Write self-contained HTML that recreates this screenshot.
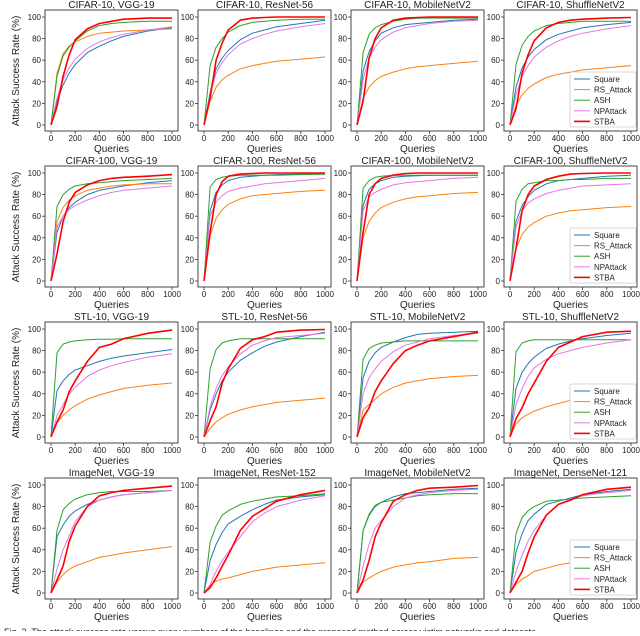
<!DOCTYPE html>
<html><head><meta charset="utf-8"><style>
body{margin:0;background:#fff;width:640px;height:631px;overflow:hidden;font-family:"Liberation Sans",sans-serif}
svg text{font-family:"Liberation Sans",sans-serif;fill:#222}
</style></head><body>
<svg id="fig" width="640" height="631" viewBox="0 0 640 631" xmlns="http://www.w3.org/2000/svg"></svg>
<script>
const queries=[0,50,100,150,200,300,400,500,600,800,1000];
const titles=["CIFAR-10, VGG-19","CIFAR-10, ResNet-56","CIFAR-10, MobileNetV2","CIFAR-10, ShuffleNetV2",
"CIFAR-100, VGG-19","CIFAR-100, ResNet-56","CIFAR-100, MobileNetV2","CIFAR-100, ShuffleNetV2",
"STL-10, VGG-19","STL-10, ResNet-56","STL-10, MobileNetV2","STL-10, ShuffleNetV2",
"ImageNet, VGG-19","ImageNet, ResNet-152","ImageNet, MobileNetV2","ImageNet, DenseNet-121"];
const yTicks=[0,20,40,60,80,100];
const xTicks=[0,200,400,600,800,1000];
const seriesNames=["Square","RS_Attack","ASH","NPAttack","STBA"];
const squareData=[
[0,22,37,48,56,67,73,78,82,87,90],[0,30,52,62,69,79,85,88,91,94,97],[0,50,68,78,85,90,93,94,95,97,98],[0,35,53,63,70,79,84,87,90,93,95],
[0,45,60,68,73,80,84,86,88,91,93],[0,65,82,89,93,96,97,98,98.5,99,99],[0,70,85,90,93,96,97,97.5,98,98,98],[0,55,70,78,84,90,93,94,95,97,98],
[0,43,52,58,62,66,70,73,75,78,81],[0,25,40,52,60,71,78,84,88,93,97],[0,55,70,78,83,88,92,95,96,97,98],[0,45,60,68,74,82,86,89,91,94,96],
[0,52,63,71,76,82,86,89,91,93,95],[0,30,45,56,64,71,77,82,86,89,91],[0,58,72,80,84,89,92,93,94,96,97],[0,38,55,67,73,82,85,88,91,94,96]];
const rsData=[
[0,48,66,73,77,82,85,86,87,88,89],[0,22,35,42,46,52,55,57,59,61,63],[0,25,35,41,45,49,52,54,55,57,59],[0,18,28,34,38,44,47,49,51,53,55],
[0,55,68,75,79,84,86,88,89,90,90],[0,42,58,66,71,76,79,80,81,83,84],[0,40,55,63,68,73,76,78,79,81,82],[0,30,43,50,54,60,63,65,66,68,69],
[0,13,20,25,29,35,39,42,45,48,50],[0,8,14,18,21,25,28,30,32,34,36],[0,25,30,35,40,46,50,52,54,56,57],[0,12,18,21,24,28,31,34,37,40,43],
[0,10,17,22,25,29,33,35,37,40,43],[0,7,11,13,14,17,20,22,24,26,28],[0,10,14,17,20,24,26,28,29,32,33],[0,8,13,16,20,23,26,28,30,31,32]];
const ashData=[
[0,45,64,72,78,87,92,94,95,96,96],[0,55,72,80,86,92,95,96,97,98,98],[0,67,84,90,93,96,98,99,99,99,99],[0,56,74,82,87,92,94,95,96,96,96],
[0,69,80,85,88,90,91,92,93,94,95],[0,87,94,96,97,98,98,98,98,98.5,99],[0,86,93,96,97,98,98,98,98,98,98],[0,74,85,90,91,93,93,94,94,95,95],
[0,78,86,88,89,90,90.5,90.5,91,91,91],[0,63,81,87,89,91,91,91,91,91,91],[0,72,82,85,87,88,89,89,89,89,89],[0,79,87,89,90,90,90,90,90,90,90],
[0,58,77,83,87,91,93,94,94,94,95],[0,47,62,72,76,82,85,87,89,90,92],[0,58,73,81,84,86,88,90,91,92,92],[0,55,70,76,80,85,86,87,88,89,90]];
const npData=[
[0,25,42,53,61,71,77,81,84,88,91],[0,28,48,58,65,75,80,84,87,91,94],[0,42,62,72,79,86,90,92,94,96,97],[0,28,45,55,63,72,78,82,85,89,92],
[0,50,60,66,70,75,79,82,84,86,88],[0,60,73,79,83,86,88,90,91,93,95],[0,65,78,82,85,89,91,92,93,95,96],[0,50,65,72,76,81,84,86,88,89,90],
[0,20,30,40,46,56,62,66,69,74,77],[0,28,45,57,65,77,85,89,92,94,96],[0,40,55,63,70,79,85,88,91,94,96],[0,30,45,56,64,72,77,80,83,87,90],
[0,22,40,53,66,80,86,89,91,93,95],[0,8,20,30,38,52,66,74,80,86,90],[0,25,45,60,67,80,88,91,93,95,96],[0,20,35,48,58,72,82,87,90,93,95]];
const stbaData=[
[0,17,45,65,79,89,94,96,98,99,99],[0,25,60,76,88,97,99,99.5,100,100,100],[0,22,62,80,90,97,99,99.5,100,100,100],[0,15,48,65,78,90,95,97,98,99,99.5],
[0,25,55,73,82,89,93,95,96,97,98.5],[0,45,80,92,97,99,99.5,100,100,100,100],[0,45,80,90,95,98,99.5,100,100,100,100],[0,30,65,80,88,94,97,99,99.5,100,100],
[0,14,25,42,52,70,83,86,91,96,99],[0,15,28,50,63,82,90,93,97,99,99.5],[0,18,27,42,52,68,80,85,89,93,97],[0,17,27,40,50,70,83,88,93,97,98],
[0,12,25,48,62,80,90,93,95,97,99],[0,5,14,25,35,58,71,78,85,91,95],[0,12,30,52,65,85,91,95,97,98,99.5],[0,10,20,37,52,72,82,86,91,96,98]];
const allSeries=[squareData,rsData,ashData,npData,stbaData];
const colors=["#1f77b4","#ff7f0e","#2ca02c","#e377e8","#ff0000"];
const widths=[1,1,1,1,1.6];
const NS="http://www.w3.org/2000/svg";
const svg=document.getElementById("fig");
function mk(tag,attrs,parent){const e=document.createElementNS(NS,tag);for(const k in attrs)e.setAttribute(k,attrs[k]);(parent||svg).appendChild(e);return e;}
const colX0=[51,204,357,510], rowY0=[125,281,437,593], PW=121, PH=108;
for(let p=0;p<16;p++){
  const r=Math.floor(p/4), c=p%4;
  const x0=colX0[c], y0=rowY0[r];
  const xs=v=>x0+v/1000*PW, ys=v=>y0-v/100*PH;
  const g=mk("g",{});
  
  
  const t=mk("text",{x:x0+PW/2,y:y0-117,"text-anchor":"middle","font-size":"10"},g);t.textContent=titles[p];
  
  
  const box=mk("rect",{x:x0-6,y:y0-115,width:PW+12,height:121,fill:"none",stroke:"#333","stroke-width":"0.9"},g);
  
  
  yTicks.forEach(v=>{
    mk("line",{x1:x0-9,x2:x0-6,y1:ys(v),y2:ys(v),stroke:"#333","stroke-width":"0.8"},g);
    const tt=mk("text",{x:x0-10,y:ys(v)+3,"text-anchor":"end","font-size":"8"},g);tt.textContent=v;
    
    
  });
  xTicks.forEach(v=>{
    mk("line",{x1:xs(v),x2:xs(v),y1:y0+6,y2:y0+9,stroke:"#333","stroke-width":"0.8"},g);
    const tt=mk("text",{x:xs(v),y:y0+16,"text-anchor":"middle","font-size":"8"},g);tt.textContent=v;
    
    
  });
  const xl=mk("text",{x:x0+PW/2,y:y0+27,"text-anchor":"middle","font-size":"10"},g);xl.textContent="Queries";
  
  
  if(c===0){
    const yl=mk("text",{x:0,y:0,"text-anchor":"middle","font-size":"10",transform:`translate(19,${y0-54}) rotate(-90)`},g);yl.textContent="Attack Success Rate (%)";
    
    
  }
  allSeries.forEach((s,i)=>{
    const pts=queries.map((q,j)=>xs(q).toFixed(1)+","+ys(s[p][j]).toFixed(1)).join(" ");
    const pl=mk("polyline",{points:pts,fill:"none",stroke:colors[i],"stroke-width":widths[i],"stroke-linejoin":"round"},g);
    
    
  });
  if(c===3){
    const lg=mk("g",{},g);
    
    
    mk("rect",{x:570,y:y0-53,width:66,height:55,rx:2,fill:"#fff",stroke:"#ccc","stroke-width":"0.8"},lg);
    seriesNames.forEach((n,i)=>{
      const yy=y0-46+i*10.6;
      mk("line",{x1:574,x2:590,y1:yy,y2:yy,stroke:colors[i],"stroke-width":widths[i]},lg);
      const lt=mk("text",{x:594,y:yy+3,"font-size":"8"},lg);lt.textContent=n;
      
      
    });
  }
}
const cap=mk("text",{x:4,y:635,"font-size":"9",fill:"#555"});
cap.textContent="Fig. 3. The attack success rate versus query numbers of the baselines and the proposed method across victim networks and datasets.";


</script>
</body></html>
